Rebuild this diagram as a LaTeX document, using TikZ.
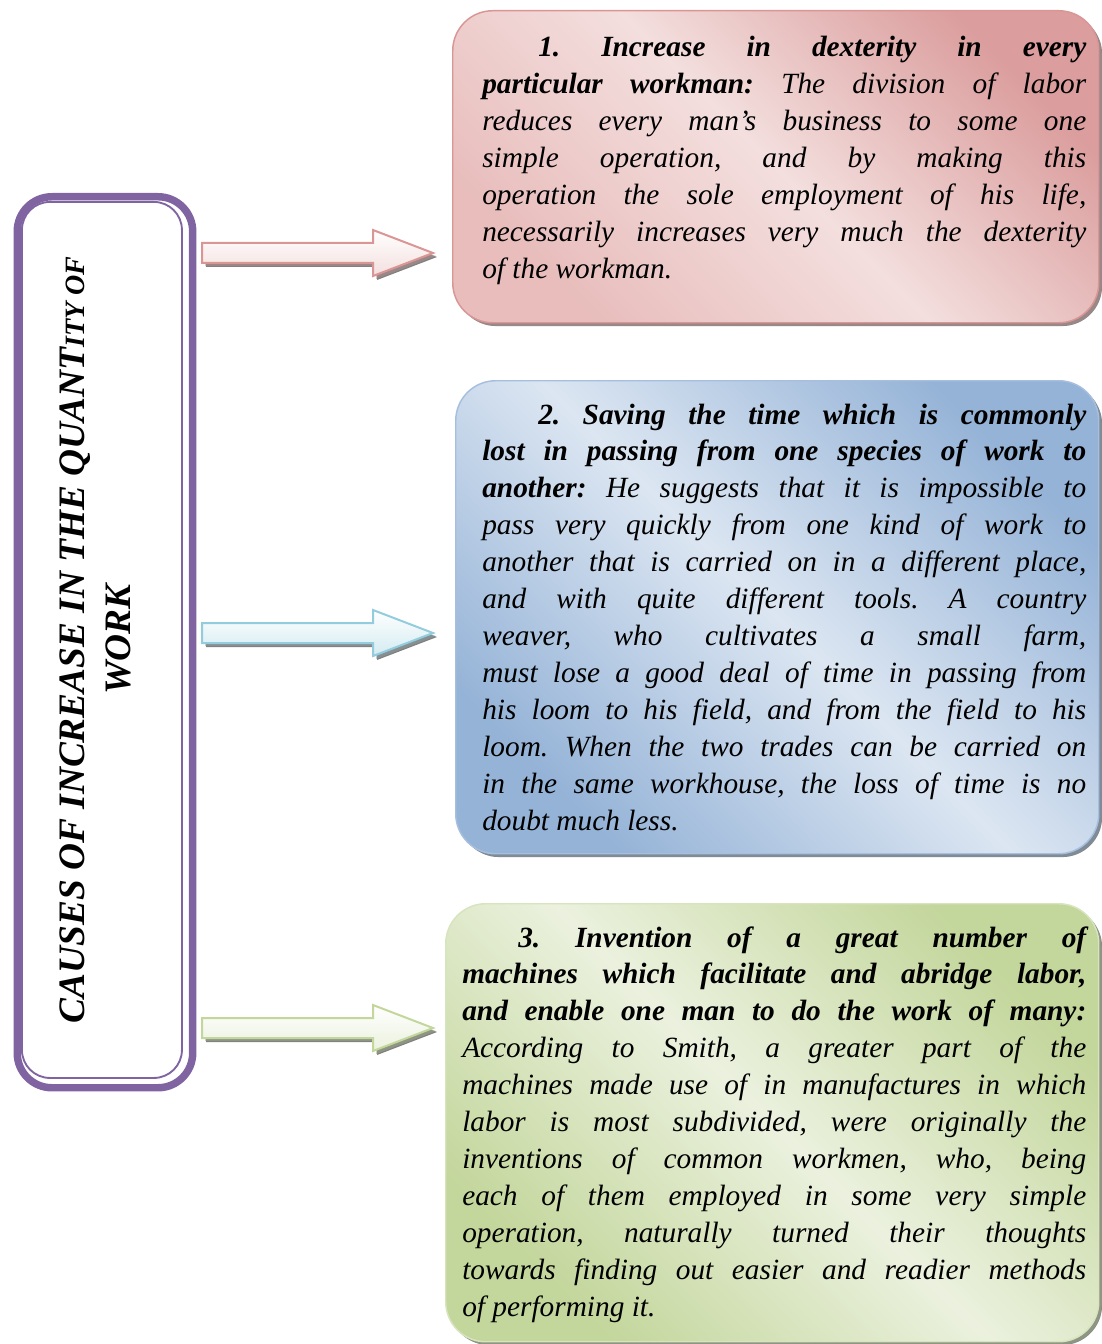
\documentclass[tikz,border=0pt]{standalone}
\usepackage{fontspec}
\setmainfont{Liberation Serif}
\usepackage{tikz}
\usetikzlibrary{shadows, positioning}

\definecolor{framepurple}{HTML}{8064A2}
\definecolor{pinkline}{HTML}{D99694}
\definecolor{pinkdark}{HTML}{DB9D9D}
\definecolor{pinkmid}{HTML}{E8BDBC}
\definecolor{pinklight}{HTML}{F3DFDE}
\definecolor{pinkshadow}{HTML}{B58F8F}
\definecolor{blueline}{HTML}{A7BFDE}
\definecolor{bluedark}{HTML}{95B3D7}
\definecolor{bluelight}{HTML}{DCE6F2}
\definecolor{blueshadow}{HTML}{8196B0}
\definecolor{greenline}{HTML}{D7E4BD}
\definecolor{greendark}{HTML}{C3D69B}
\definecolor{greenlight}{HTML}{EBF1DE}
\definecolor{greenshadow}{HTML}{9CAA85}
\definecolor{cyanline}{HTML}{93CDDD}
\definecolor{cyanlight}{HTML}{D3EBF1}
\definecolor{cyanshadow}{HTML}{8CA0A6}

\newcommand{\causeindent}{\hspace*{42pt}}

\begin{document}
\begin{tikzpicture}[x=0.75pt, y=-0.75pt,
			every node/.style={inner sep=0pt},
			frame/.style={draw=framepurple, rounded corners=26pt, anchor=north west},
			causebox/.style={draw, line width=1.1pt, rounded corners=30pt, anchor=north west,
				drop shadow={shadow xshift=2.5pt, shadow yshift=-2.5pt, opacity=1}},
			pinkbox/.style={causebox, draw=pinkline, top color=pinkdark, bottom color=pinkmid,
				middle color=pinklight, shading angle=-45, drop shadow={fill=pinkshadow}},
			bluebox/.style={causebox, draw=blueline, top color=bluedark, bottom color=bluedark,
				middle color=bluelight, shading angle=-45, drop shadow={fill=blueshadow}},
			greenbox/.style={causebox, draw=greenline, top color=greendark, bottom color=greendark,
				middle color=greenlight, shading angle=-45, drop shadow={fill=greenshadow}},
			causetext/.style={anchor=base west, align=justify,
				font=\fontsize{22}{27.7}\selectfont\itshape\frenchspacing},
			blockarrow/.style={line width=1.5pt, line join=miter,
				drop shadow={shadow xshift=3pt, shadow yshift=-3pt, opacity=1}},
			]
			\useasboundingbox (0,0) rectangle (1101,1344);

			% Title frame
			\node[frame, line width=5.6pt, minimum width=131.6pt, minimum height=668.25pt]
			(frame) at (13.5,193) {};
			\node[frame, line width=1.4pt, rounded corners=21pt, minimum width=120pt,
			minimum height=657pt] (inner) at (21,201) {};
			\node[rotate=90, align=center, font=\fontsize{28}{34.5}\selectfont\bfseries\itshape]
			(title) at (95,640)
			{CAUSES OF INCREASE IN THE QUANT{\fontsize{21}{34.5}\selectfont ITY OF}\\WORK};

			% Boxes
			\node[pinkbox, minimum width=484.5pt, minimum height=234pt] (box1) at (452,10) {};
			\node[bluebox, minimum width=482.25pt, minimum height=354.75pt] (box2) at (455,380) {};
			\node[greenbox, minimum width=489.75pt, minimum height=328.5pt] (box3) at (445,903) {};

			% Texts
			\node[causetext, text width=453pt] (text1) at (482,57)
			{\causeindent\textbf{1. Increase in dexterity in every\linebreak
					particular workman:} The division of labor\linebreak
				reduces every man’s business to some one\linebreak
				simple operation, and by making this\linebreak
				operation the sole employment of his life,\linebreak
				necessarily increases very much the dexterity\linebreak
				of the workman.};
			\node[causetext, text width=453pt] (text2) at (482,424)
			{\causeindent\textbf{2. Saving the time which is commonly\linebreak
					lost in passing from one species of work to\linebreak
					another:} He suggests that it is impossible to\linebreak
				pass very quickly from one kind of work to\linebreak
				another that is carried on in a different place,\linebreak
				and with quite different tools. A country\linebreak
				weaver, who cultivates a small farm,\linebreak
				must lose a good deal of time in passing from\linebreak
				his loom to his field, and from the field to his\linebreak
				loom. When the two trades can be carried on\linebreak
				in the same workhouse, the loss of time is no\linebreak
				doubt much less.};
			\node[causetext, text width=468pt] (text3) at (462,947)
			{\causeindent\textbf{3. Invention of a great number of\linebreak
					machines which facilitate and abridge labor,\linebreak
					and enable one man to do the work of many:}\linebreak
				According to Smith, a greater part of the\linebreak
				machines made use of in manufactures in which\linebreak
				labor is most subdivided, were originally the\linebreak
				inventions of common workmen, who, being\linebreak
				each of them employed in some very simple\linebreak
				operation, naturally turned their thoughts\linebreak
				towards finding out easier and readier methods\linebreak
				of performing it.};

			% Arrows
			\coordinate (a1) at (202,253);
			\coordinate (a2) at (202,633);
			\coordinate (a3) at (202,1028);
			\draw[blockarrow, draw=pinkline, top color=white, bottom color=pinklight,
			drop shadow={fill=pinkshadow}]
			(a1) ++(0,-10) -- ++(171,0) -- ++(0,-13) -- ++(60,23) -- ++(-60,23)
			-- ++(0,-13) -- ++(-171,0) -- cycle;
			\draw[blockarrow, draw=cyanline, top color=white, bottom color=cyanlight,
			drop shadow={fill=cyanshadow}]
			(a2) ++(0,-10) -- ++(171,0) -- ++(0,-13) -- ++(60,23) -- ++(-60,23)
			-- ++(0,-13) -- ++(-171,0) -- cycle;
			\draw[blockarrow, draw=greendark, top color=white, bottom color=greenlight,
			drop shadow={fill=greenshadow}]
			(a3) ++(0,-10) -- ++(171,0) -- ++(0,-13) -- ++(60,23) -- ++(-60,23)
			-- ++(0,-13) -- ++(-171,0) -- cycle;
		\end{tikzpicture}
\end{document}
